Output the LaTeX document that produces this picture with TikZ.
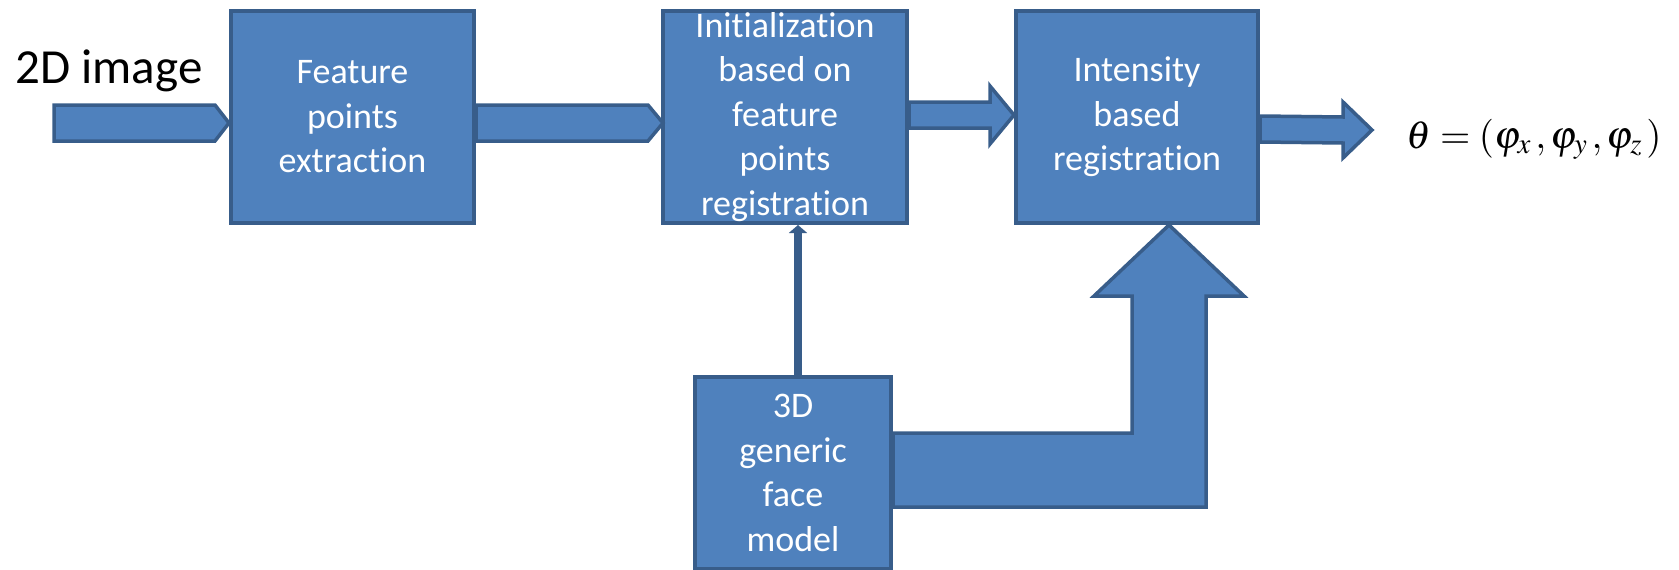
\documentclass[tikz,border=0pt]{standalone}
\usepackage{mathptmx}
\usepackage{fontspec}
\setmainfont{Carlito}[Ligatures=NoCommon]
\usepackage{tikz}
\usetikzlibrary{arrows.meta,positioning,calc}

\definecolor{boxblue}{HTML}{4F81BD}
\definecolor{edgeblue}{HTML}{385D8A}

% block arrow: tail, tip, shaft half width, head half width, head length
\newcommand{\blockarrow}[5]{%
  \draw[blockarrow] ($(#1)+(0,-#3)$) -- ($(#2)+(-#5,-#3)$) -- ($(#2)+(-#5,-#4)$)
    -- (#2) -- ($(#2)+(-#5,#4)$) -- ($(#2)+(-#5,#3)$) -- ($(#1)+(0,#3)$) -- cycle;}
% flat arrow with a short point
\newcommand{\chevarrow}[4]{%
  \draw[blockarrow] ($(#1)+(0,-#3)$) -- ($(#2)+(-#4,-#3)$) -- (#2)
    -- ($(#2)+(-#4,#3)$) -- ($(#1)+(0,#3)$) -- cycle;}

\begin{document}
\begin{tikzpicture}[x=1pt, y=-1pt,
  box/.style={draw=edgeblue, fill=boxblue, line width=4pt, text=white,
    align=center, inner sep=0pt, font=\fontsize{36}{44.5}\selectfont},
  blockarrow/.style={draw=edgeblue, fill=boxblue, line width=3.5pt},
  thinarrow/.style={draw=edgeblue, line width=8.5pt,
    -{Triangle[width=18pt,length=8pt]}}
]
\useasboundingbox (0,0) rectangle (1679,570);

% boxes
\node[box, minimum width=243pt, minimum height=212pt] (feat) at (352.5,117)
  {Feature\\points\\extraction};
\node[box, minimum width=244pt, minimum height=212pt] (init) at (785,117)
  {Initialization\\based on\\feature\\points\\registration};
\node[box, minimum width=242pt, minimum height=212pt] (inten) at (1137,117)
  {Intensity\\based\\registration};
\node[box, minimum width=196pt, minimum height=192pt] (model) at (793,473)
  {3D\\generic\\face\\model};

% labels
\node[anchor=base west, font=\fontsize{49}{50}\selectfont] (img) at (12,83) {2D image};
\node[anchor=base west, font=\fontsize{39}{42}\selectfont] (theta) at (1403,148)
  {$\theta = (\varphi_x\,, \varphi_y\,, \varphi_z\,)$};

% flow arrows
\coordinate (in) at (54,123);
\coordinate (t1) at ($(feat.west)+(0,6)$);
\chevarrow{in}{t1}{18}{14}
\coordinate (s2) at ($(feat.east)+(0,6)$);
\coordinate (t2) at ($(init.west)+(2,6)$);
\chevarrow{s2}{t2}{18}{15}
\coordinate (s3) at ($(init.east)+(0,-2)$);
\coordinate (t3) at ($(inten.west)+(0,-2)$);
\blockarrow{s3}{t3}{13}{29}{24}
\coordinate (s4) at ($(inten.east)+(0,12)$);
\coordinate (out) at (1372,130);
\blockarrow{s4}{out}{13}{28}{29}

% model to registration
\draw[thinarrow] ($(model.north)+(5,0)$) coordinate (m0) -- (m0 |- init.south);
\coordinate (a1) at ($(model.east)+(0,-40)$);
\coordinate (a2) at ($(model.east)+(0,34)$);
\coordinate (ltip) at ($(inten.south)+(32,0)$);
\draw[blockarrow] (a1) -| ($(ltip)+(-37,71)$) -- ($(ltip)+(-75,71)$) -- (ltip)
  -- ($(ltip)+(75,71)$) -- ($(ltip)+(37,71)$) |- (a2) -- cycle;
\end{tikzpicture}
\end{document}
